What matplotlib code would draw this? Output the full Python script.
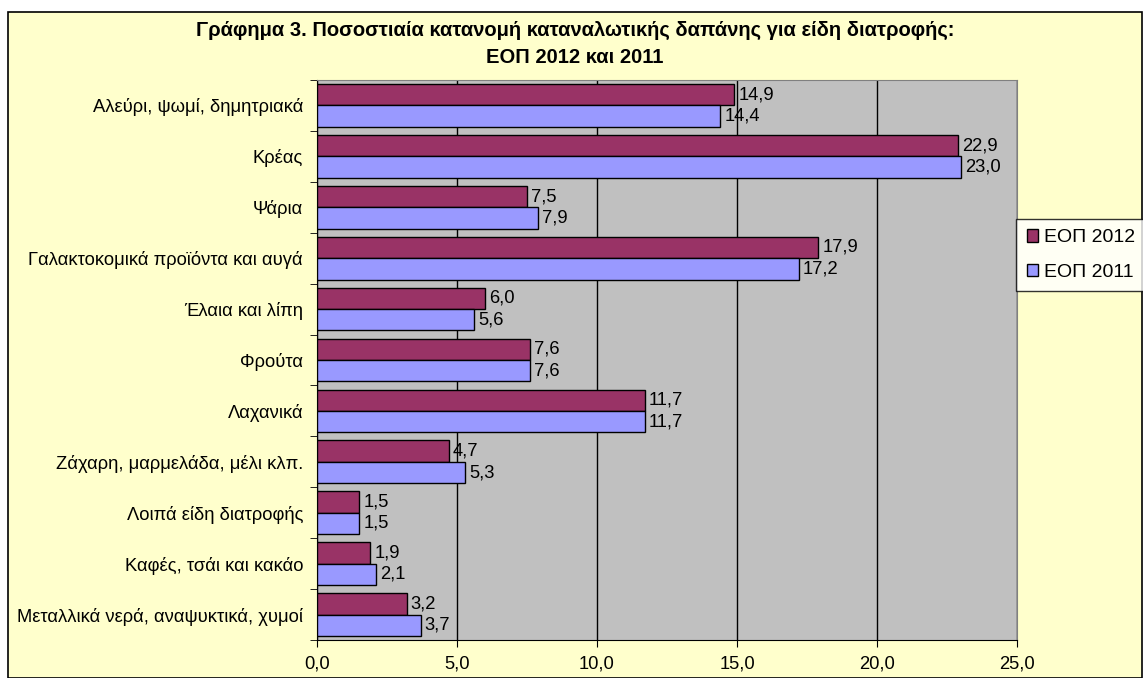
import numpy as np
import matplotlib.pyplot as plt
from matplotlib.patches import Rectangle

plt.rcParams['font.family'] = ['Liberation Sans', 'DejaVu Sans']

categories = ['Αλεύρι, ψωμί, δημητριακά', 'Κρέας', 'Ψάρια',
              'Γαλακτοκομικά προϊόντα και αυγά', 'Έλαια και λίπη', 'Φρούτα',
              'Λαχανικά', 'Ζάχαρη, μαρμελάδα, μέλι κλπ.', 'Λοιπά είδη διατροφής',
              'Καφές, τσάι και κακάο', 'Μεταλλικά νερά, αναψυκτικά, χυμοί']
eop2012 = [14.9, 22.9, 7.5, 17.9, 6.0, 7.6, 11.7, 4.7, 1.5, 1.9, 3.2]
eop2011 = [14.4, 23.0, 7.9, 17.2, 5.6, 7.6, 11.7, 5.3, 1.5, 2.1, 3.7]
xticks = [0, 5, 10, 15, 20, 25]

fs = 13.2

fig = plt.figure(figsize=(11.43, 6.78), dpi=100)
fig.patch.set_facecolor('white')
fig.patches.append(Rectangle((8 / 1143, 0), 1134 / 1143, 666 / 678,
                             transform=fig.transFigure, facecolor='#FFFFCC',
                             edgecolor='black', linewidth=1.2, zorder=-1))

ax = fig.add_axes([317 / 1143, 38 / 678, 700 / 1143, 560 / 678])
ax.set_facecolor('#C0C0C0')

y = np.arange(len(categories))
h = 0.42
b1 = ax.barh(y - h / 2, eop2012, height=h, color='#993366', edgecolor='black',
             linewidth=1, label='ΕΟΠ 2012', zorder=3)
b2 = ax.barh(y + h / 2, eop2011, height=h, color='#9999FF', edgecolor='black',
             linewidth=1, label='ΕΟΠ 2011', zorder=3)

for bars, vals in ((b1, eop2012), (b2, eop2011)):
    for bar, v in zip(bars, vals):
        ax.text(v + 0.15, bar.get_y() + bar.get_height() / 2,
                f'{v:.1f}'.replace('.', ','), va='center', ha='left',
                fontsize=fs, zorder=4)

ax.set_xlim(0, 25)
ax.set_ylim(len(categories) - 0.5, -0.5)
ax.set_xticks(xticks)
ax.set_xticklabels([f'{t:.1f}'.replace('.', ',') for t in xticks], fontsize=fs)
ax.set_yticks(np.arange(len(categories) + 1) - 0.5, minor=True)
ax.set_yticks(y)
ax.set_yticklabels(categories, fontsize=fs)
ax.tick_params(axis='y', which='major', length=0, pad=10)
ax.tick_params(axis='y', which='minor', length=5, direction='out')
ax.tick_params(axis='x', length=5, direction='out', pad=6)
ax.xaxis.grid(True, color='black', linewidth=1, zorder=1)

for side in ['top', 'right']:
    ax.spines[side].set_color('#808080')
ax.spines['left'].set_color('black')
ax.spines['bottom'].set_color('black')

fig.text(0.503, 0.955, 'Γράφημα 3. Ποσοστιαία κατανομή καταναλωτικής δαπάνης για είδη διατροφής:',
         ha='center', va='center', fontsize=14.5, fontweight='bold')
fig.text(0.503, 0.915, 'ΕΟΠ 2012 και 2011', ha='center', va='center',
         fontsize=14.5, fontweight='bold')

leg = fig.legend(handles=[b1, b2], loc='center left',
                 bbox_to_anchor=(1016 / 1143, 1 - 255 / 678), fontsize=14,
                 frameon=True, fancybox=False, edgecolor='black',
                 handlelength=0.6, handleheight=0.6, handletextpad=0.3,
                 borderpad=0.55, labelspacing=0.9, borderaxespad=0)
leg.get_frame().set_linewidth(1)

fig.savefig('out.png', dpi=100)
